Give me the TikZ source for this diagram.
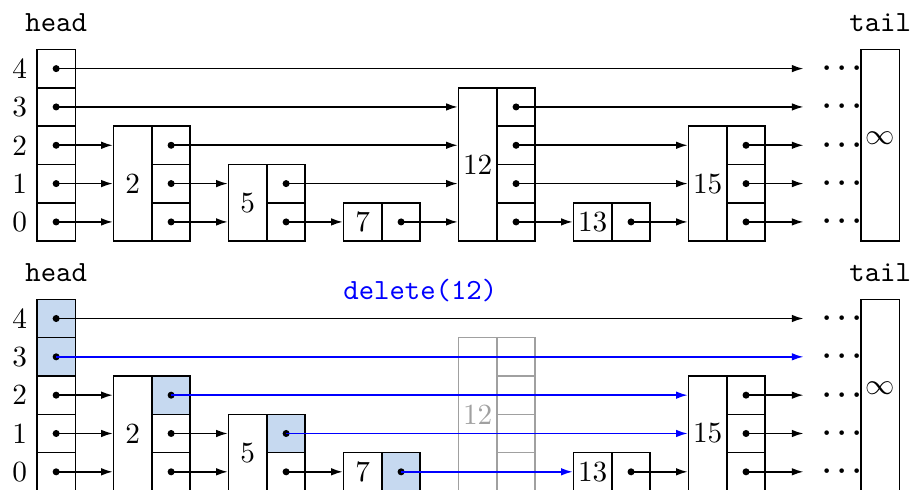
\documentclass[tikz,border=0pt]{standalone}
\usetikzlibrary{arrows.meta}
\definecolor{hl}{RGB}{198,217,240}
\definecolor{ghost}{RGB}{160,160,160}
\tikzset{
  cell/.style={draw, minimum width=0.46cm, minimum height=0.46cm, inner sep=0pt},
  ptr/.style={cell, path picture={\fill[black] (path picture bounding box.center) circle (1.2pt);}},
  key/.style={cell, minimum height=#1*0.46cm},
  link/.style={-{Latex[length=4pt,width=2.6pt]}},
  more/.style={font=\boldmath}
}
\begin{document}
\begin{tikzpicture}[x=0.46cm, y=0.46cm, line width=0.55pt]
\useasboundingbox (-0.965,-6.49) rectangle (22.83,6.29);

% before
\node (headA) at (0.5,5.7) {\texttt{head}};
\node (tailA) at (22,5.7) {\texttt{tail}};
\foreach \r in {0,...,4} {
  \node (lA\r) at (-0.45,\r+0.5) {\r};
  \node[ptr] (hA\r) at (0.5,\r+0.5) {};
  \node[more] (dA\r) at (21,\r+0.5) {$\cdots$};
  \coordinate (eA\r) at (20,\r+0.5);
}
\node[key=5, text depth=4.7pt] (tA) at (22,2.5) {$\infty$};
\node[key=3] (kA2) at (2.5,1.5) {2};
\node[ptr] (pA2r0) at (3.5,0.5) {};
\node[ptr] (pA2r1) at (3.5,1.5) {};
\node[ptr] (pA2r2) at (3.5,2.5) {};
\node[key=2] (kA5) at (5.5,1) {5};
\node[ptr] (pA5r0) at (6.5,0.5) {};
\node[ptr] (pA5r1) at (6.5,1.5) {};
\node[key=1] (kA7) at (8.5,0.5) {7};
\node[ptr] (pA7r0) at (9.5,0.5) {};
\node[key=4] (kA12) at (11.5,2) {12};
\node[ptr] (pA12r0) at (12.5,0.5) {};
\node[ptr] (pA12r1) at (12.5,1.5) {};
\node[ptr] (pA12r2) at (12.5,2.5) {};
\node[ptr] (pA12r3) at (12.5,3.5) {};
\node[key=1] (kA13) at (14.5,0.5) {13};
\node[ptr] (pA13r0) at (15.5,0.5) {};
\node[key=3] (kA15) at (17.5,1.5) {15};
\node[ptr] (pA15r0) at (18.5,0.5) {};
\node[ptr] (pA15r1) at (18.5,1.5) {};
\node[ptr] (pA15r2) at (18.5,2.5) {};

\draw[link] (hA4.center) -- (eA4);
\draw[link] (hA3.center) -- (hA3.center -| kA12.west);
\draw[link] (hA2.center) -- (hA2.center -| kA2.west);
\draw[link] (hA1.center) -- (hA1.center -| kA2.west);
\draw[link] (hA0.center) -- (hA0.center -| kA2.west);
\draw[link] (pA2r2.center) -- (pA2r2.center -| kA12.west);
\draw[link] (pA2r1.center) -- (pA2r1.center -| kA5.west);
\draw[link] (pA2r0.center) -- (pA2r0.center -| kA5.west);
\draw[link] (pA5r1.center) -- (pA5r1.center -| kA12.west);
\draw[link] (pA5r0.center) -- (kA7.west);
\draw[link] (pA7r0.center) -- (pA7r0.center -| kA12.west);
\draw[link] (pA12r3.center) -- (eA3);
\draw[link] (pA12r2.center) -- (pA12r2.center -| kA15.west);
\draw[link] (pA12r1.center) -- (pA12r1.center -| kA15.west);
\draw[link] (pA12r0.center) -- (kA13.west);
\draw[link] (pA13r0.center) -- (pA13r0.center -| kA15.west);
\draw[link] (pA15r2.center) -- (eA2);
\draw[link] (pA15r1.center) -- (eA1);
\draw[link] (pA15r0.center) -- (eA0);

% after delete(12)
\begin{scope}[shift={(0,-6.52)}]
\node (headB) at (0.5,5.7) {\texttt{head}};
\node (tailB) at (22,5.7) {\texttt{tail}};
\node[text=blue] (op) at (10,5.22) {\texttt{delete(12)}};
\foreach \r in {0,...,4} {
  \node (lB\r) at (-0.45,\r+0.5) {\r};
  \node[more] (dB\r) at (21,\r+0.5) {$\cdots$};
  \coordinate (eB\r) at (20,\r+0.5);
}
\node[ptr, fill=hl] (hB4) at (0.5,4.5) {};
\node[ptr, fill=hl] (hB3) at (0.5,3.5) {};
\node[ptr] (hB2) at (0.5,2.5) {};
\node[ptr] (hB1) at (0.5,1.5) {};
\node[ptr] (hB0) at (0.5,0.5) {};
\node[key=5, text depth=4.7pt] (tB) at (22,2.5) {$\infty$};
\node[key=3] (kB2) at (2.5,1.5) {2};
\node[ptr] (pB2r0) at (3.5,0.5) {};
\node[ptr] (pB2r1) at (3.5,1.5) {};
\node[ptr, fill=hl] (pB2r2) at (3.5,2.5) {};
\node[key=2] (kB5) at (5.5,1) {5};
\node[ptr] (pB5r0) at (6.5,0.5) {};
\node[ptr, fill=hl] (pB5r1) at (6.5,1.5) {};
\node[key=1] (kB7) at (8.5,0.5) {7};
\node[ptr, fill=hl] (pB7r0) at (9.5,0.5) {};
\node[key=4, draw=ghost, text=ghost] (kB12) at (11.5,2) {12};
\node[cell, draw=ghost] (pB12r0) at (12.5,0.5) {};
\node[cell, draw=ghost] (pB12r1) at (12.5,1.5) {};
\node[cell, draw=ghost] (pB12r2) at (12.5,2.5) {};
\node[cell, draw=ghost] (pB12r3) at (12.5,3.5) {};
\node[key=1] (kB13) at (14.5,0.5) {13};
\node[ptr] (pB13r0) at (15.5,0.5) {};
\node[key=3] (kB15) at (17.5,1.5) {15};
\node[ptr] (pB15r0) at (18.5,0.5) {};
\node[ptr] (pB15r1) at (18.5,1.5) {};
\node[ptr] (pB15r2) at (18.5,2.5) {};

\draw[link] (hB4.center) -- (eB4);
\draw[link, blue] (hB3.center) -- (eB3);
\draw[link] (hB2.center) -- (hB2.center -| kB2.west);
\draw[link] (hB1.center) -- (hB1.center -| kB2.west);
\draw[link] (hB0.center) -- (hB0.center -| kB2.west);
\draw[link, blue] (pB2r2.center) -- (pB2r2.center -| kB15.west);
\draw[link] (pB2r1.center) -- (pB2r1.center -| kB5.west);
\draw[link] (pB2r0.center) -- (pB2r0.center -| kB5.west);
\draw[link, blue] (pB5r1.center) -- (pB5r1.center -| kB15.west);
\draw[link] (pB5r0.center) -- (kB7.west);
\draw[link, blue] (pB7r0.center) -- (kB13.west);
\draw[link] (pB13r0.center) -- (pB13r0.center -| kB15.west);
\draw[link] (pB15r2.center) -- (eB2);
\draw[link] (pB15r1.center) -- (eB1);
\draw[link] (pB15r0.center) -- (eB0);
\end{scope}
\end{tikzpicture}
\end{document}
